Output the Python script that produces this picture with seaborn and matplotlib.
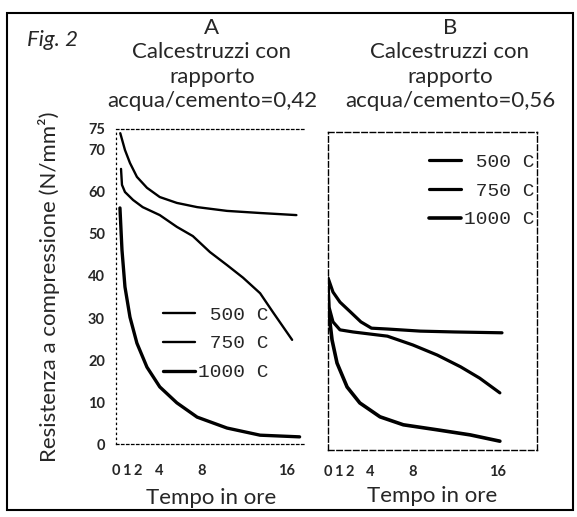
import numpy as np
import pandas as pd
import matplotlib
matplotlib.use("Agg")
import matplotlib.pyplot as plt
import matplotlib.patches as mpatches
import seaborn as sns

# ----------------------------------------------------------------
# Data (time in hours, strength in N/mm2)
# ----------------------------------------------------------------
temps = ["500 C", "750 C", "1000 C"]

# panel A: water/cement = 0.42
t_a_500 = [0.4, 0.84, 1.31, 1.96, 2.9, 4.1, 5.7, 7.6, 10.4, 13.5, 16.9]
v_a_500 = [74.0, 70.0, 66.9, 63.6, 61.0, 58.8, 57.4, 56.4, 55.5, 55.0, 54.5]
t_a_750 = [0.47, 0.56, 0.84, 1.6, 2.5, 4.1, 5.7, 7.2, 8.8, 10.4, 11.9, 13.5, 14.7, 16.5]
v_a_750 = [65.5, 61.7, 60.0, 58.1, 56.4, 54.5, 51.7, 49.5, 45.7, 42.6, 39.6, 35.9, 31.4, 24.8]
t_a_1000 = [0.37, 0.56, 0.84, 1.31, 1.96, 2.9, 4.1, 5.7, 7.6, 10.4, 13.5, 17.2]
v_a_1000 = [56.2, 46.2, 37.4, 30.2, 24.0, 18.3, 13.6, 9.8, 6.4, 3.8, 2.1, 1.7]

# panel B: water/cement = 0.56
t_b_500 = [0.0, 0.47, 1.13, 2.1, 3.1, 4.1, 5.6, 8.7, 11.9, 16.4]
v_b_500 = [41.0, 37.6, 35.2, 32.9, 30.5, 29.0, 28.8, 28.3, 28.1, 27.9]
t_b_750 = [0.0, 0.1, 0.47, 1.13, 2.36, 5.6, 8.0, 10.3, 12.5, 14.3, 16.2]
v_b_750 = [40.5, 34.0, 30.5, 28.6, 28.1, 27.1, 25.0, 22.6, 19.8, 17.1, 13.6]
t_b_1000 = [0.0, 0.05, 0.38, 0.85, 1.8, 3.0, 4.9, 7.1, 10.3, 13.4, 16.2]
v_b_1000 = [39.3, 33.3, 26.2, 20.7, 15.0, 11.2, 7.9, 6.0, 4.8, 3.6, 2.1]

x_ticks = [0, 1, 2, 4, 8, 16]
y_ticks = [0, 10, 20, 30, 40, 50, 60, 70, 75]

title_a = "A\nCalcestruzzi con\nrapporto\nacqua/cemento=0,42"
title_b = "B\nCalcestruzzi con\nrapporto\nacqua/cemento=0,56"
legend_labels = [" 500 C", " 750 C", "1000 C"]


def make_frame(ts, vs):
    rows = []
    for name, t, v in zip(temps, ts, vs):
        rows.append(pd.DataFrame({"ore": t, "resistenza": v, "temp": name}))
    return pd.concat(rows, ignore_index=True)


df_a = make_frame([t_a_500, t_a_750, t_a_1000], [v_a_500, v_a_750, v_a_1000])
df_b = make_frame([t_b_500, t_b_750, t_b_1000], [v_b_500, v_b_750, v_b_1000])

# ----------------------------------------------------------------
# Figure
# ----------------------------------------------------------------
sns.set_style("white")
plt.rcParams["font.family"] = ["Lato", "DejaVu Sans"]

W, H = 577, 517
fig = plt.figure(figsize=(W / 100, H / 100), dpi=100)


def px_axes(x0, x1, ytop, ybot):
    return fig.add_axes([x0 / W, (H - ybot) / H, (x1 - x0) / W, (ybot - ytop) / H])


ax_a = px_axes(116, 306, 129, 444)
ax_b = px_axes(328, 537, 132, 450)

widths_a = {"500 C": 1.7, "750 C": 1.7, "1000 C": 2.4}
widths_b = {"500 C": 2.3, "750 C": 2.3, "1000 C": 2.6}

for ax, df, widths in [(ax_a, df_a, widths_a), (ax_b, df_b, widths_b)]:
    for name in temps:
        sub = df[df["temp"] == name]
        sns.lineplot(data=sub, x="ore", y="resistenza", ax=ax, color="black",
                     linewidth=widths[name], estimator=None, sort=True,
                     label=name, solid_capstyle="round", solid_joinstyle="round")

ax_a.set_xlim(0, 17.8)
ax_a.set_ylim(0, 75)
ax_b.set_xlim(0, 19.7)
ax_b.set_ylim(0, 75.7)

tick_font = {"family": ["Lato", "DejaVu Sans"], "weight": "bold", "size": 10.5}

ax_a.set_yticks(y_ticks)
ax_a.set_yticklabels([str(v) for v in y_ticks], fontdict=tick_font)
ax_a.set_xticks(x_ticks)
ax_a.set_xticklabels([str(v) for v in x_ticks], fontdict=tick_font)
ax_a.tick_params(axis="y", length=2, width=0.8, pad=6, direction="out")
ax_a.tick_params(axis="x", length=3, width=0.8, pad=13, direction="inout")

ax_b.set_yticks([])
ax_b.set_xticks(x_ticks)
ax_b.set_xticklabels([str(v) for v in x_ticks], fontdict=tick_font)
ax_b.tick_params(axis="x", length=4, width=0.8, pad=9, direction="inout")

# spines: dotted / dashed like the scanned original
ax_a.spines["right"].set_visible(False)
ax_a.spines["left"].set_linestyle((0, (1, 3)))
ax_a.spines["bottom"].set_linestyle((0, (2, 2)))
ax_a.spines["top"].set_linestyle((0, (2, 2)))
for sp in ax_a.spines.values():
    sp.set_linewidth(0.9)
    sp.set_color("black")
for sp in ax_b.spines.values():
    sp.set_linestyle((0, (4, 2)))
    sp.set_linewidth(1.0)
    sp.set_color("black")

label_font = {"family": ["Lato", "DejaVu Sans"], "size": 16}
ax_a.set_xlabel("Tempo in ore", fontdict=label_font, labelpad=7)
ax_b.set_xlabel("Tempo in ore", fontdict=label_font, labelpad=5)
ax_a.set_ylabel("Resistenza a compressione (N/mm²)", fontdict=label_font, labelpad=20)
ax_b.set_ylabel("")

# legends in a typewriter face
leg_font = {"family": ["Liberation Mono", "DejaVu Sans Mono"], "size": 14}
for ax, anchor in [(ax_a, (163 / W, (H - 306) / H)), (ax_b, (429 / W, (H - 153) / H))]:
    handles, _ = ax.get_legend_handles_labels()
    ax.legend(handles, legend_labels, prop=leg_font, frameon=False,
              loc="upper left", bbox_to_anchor=anchor, bbox_transform=fig.transFigure,
              handlelength=1.65, handletextpad=0.15, labelspacing=0.58,
              borderpad=0, borderaxespad=0)

# titles and figure number
title_font = dict(family=["Lato", "DejaVu Sans"], size=16, ha="center", va="top",
                  linespacing=1.28)
fig.text(212 / W, 1 - 18 / H, title_a, **title_font)
fig.text(450 / W, 1 - 18 / H, title_b, **title_font)
fig.text(27 / W, 1 - 40 / H, "Fig. 2", family=["Lato", "DejaVu Sans"], style="italic",
         size=16, ha="left", va="center")

# outer frame
fig.patches.append(mpatches.Rectangle((7 / W, 7 / H), 566 / W, 497 / H,
                                      transform=fig.transFigure, fill=False,
                                      edgecolor="black", linewidth=1.5))

fig.savefig("out.png", dpi=100)
